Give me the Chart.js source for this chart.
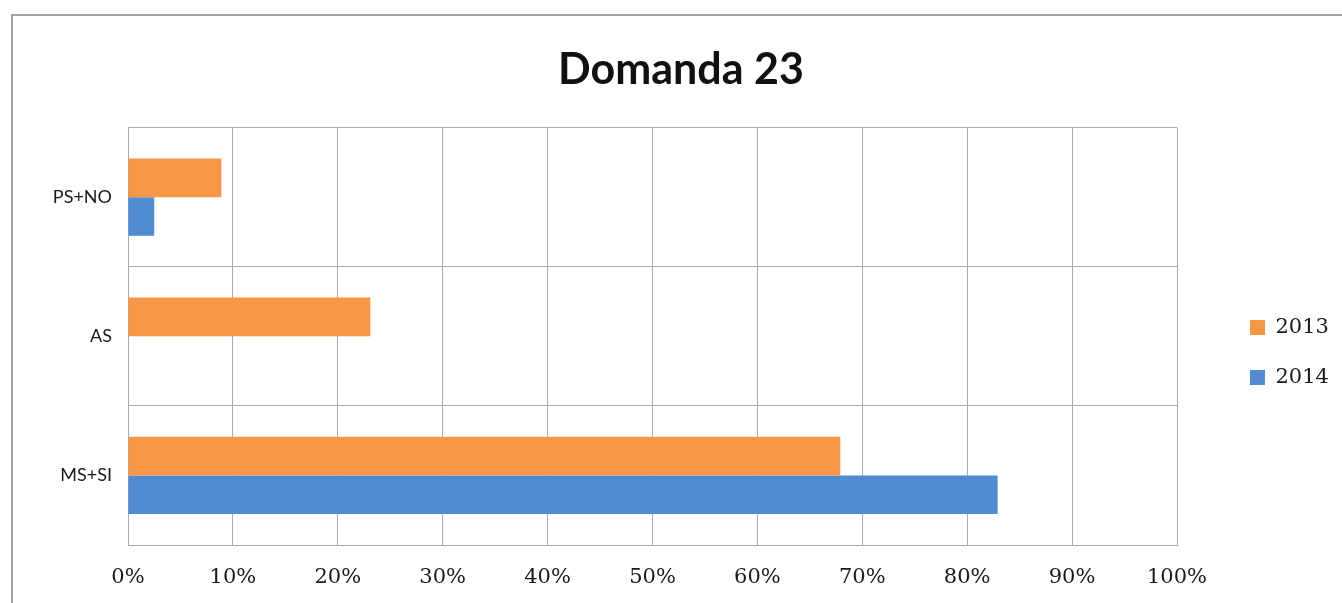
<!DOCTYPE html>
<html>
<head>
<meta charset="utf-8">
<title>Domanda 23</title>
<script src="https://cdn.jsdelivr.net/npm/chart.js@4.4.0/dist/chart.umd.min.js"></script>
<style>
  body { margin: 0; background: #fff; overflow: hidden; }
  #frame {
    position: absolute; left: 11px; top: 14px;
    width: 1400px; height: 700px;
    border: 2px solid #a3a3a3;
  }
  #chart { position: absolute; left: 0; top: 0; }
</style>
</head>
<body>
<div id="frame"></div>
<canvas id="chart" width="1342" height="603"></canvas>
<script>
const categories = ["PS+NO", "AS", "MS+SI"];
const seriesNames = ["2013", "2014"];
const values2013 = [8.9, 23.1, 67.9];
const values2014 = [2.5, 0, 82.9];
const tickValues = [0, 10, 20, 30, 40, 50, 60, 70, 80, 90, 100];

const orange = "#f79646";
const blue = "#518bd1";
const gridColor = "#a2abb6";

// legend box is kept wide so the plot ends where the original does,
// then its items are pushed to the right
const legendPlace = {
  id: "legendPlace",
  beforeInit(chart) {
    const lg = chart.legend;
    const fit = lg.fit;
    lg.fit = function () {
      fit.call(this);
      this.width = 165;
      this.right = this.left + this.width;
    };
  },
  afterLayout(chart) {
    const lg = chart.legend;
    lg.left += 44;
    lg.right += 44;
    lg.top += 51;
    lg.bottom += 51;
  }
};

function drawChart() {
  const ctx = document.getElementById("chart").getContext("2d");
  new Chart(ctx, {
    type: "bar",
    data: {
      labels: categories,
      datasets: [
        { label: seriesNames[0], data: values2013, backgroundColor: orange },
        { label: seriesNames[1], data: values2014, backgroundColor: blue }
      ]
    },
    options: {
      indexAxis: "y",
      responsive: false,
      animation: false,
      layout: { padding: { left: 20, right: 0, top: 0, bottom: 0 } },
      datasets: { bar: { barPercentage: 1, categoryPercentage: 0.556 } },
      scales: {
        x: {
          min: 0,
          max: 100,
          afterBuildTicks(axis) {
            axis.ticks = tickValues.map(v => ({ value: v }));
          },
          afterFit(axis) { axis.height = 58; },
          grid: { color: gridColor, lineWidth: 1, drawTicks: false },
          border: { color: gridColor },
          ticks: {
            padding: 20,
            color: "#1a1a1a",
            font: { family: "DejaVu Serif", size: 21 },
            callback: v => v + "%"
          }
        },
        y: {
          afterFit(axis) { axis.width = 108; },
          grid: { color: gridColor, lineWidth: 1, drawTicks: false, offset: true },
          border: { color: gridColor },
          ticks: {
            padding: 16,
            color: "#1a1a1a",
            font: { family: "Lato", size: 18 }
          }
        }
      },
      plugins: {
        title: {
          display: true,
          text: "Domanda 23",
          color: "#111",
          font: { family: "Lato", size: 43, weight: "bold" },
          padding: { top: 44, bottom: 32 }
        },
        legend: {
          position: "right",
          labels: {
            boxWidth: 15,
            boxHeight: 15,
            padding: 29,
            color: "#1a1a1a",
            font: { family: "DejaVu Serif", size: 21 }
          }
        },
        tooltip: { enabled: false }
      }
    },
    plugins: [legendPlace]
  });
}

drawChart();
</script>
</body>
</html>
